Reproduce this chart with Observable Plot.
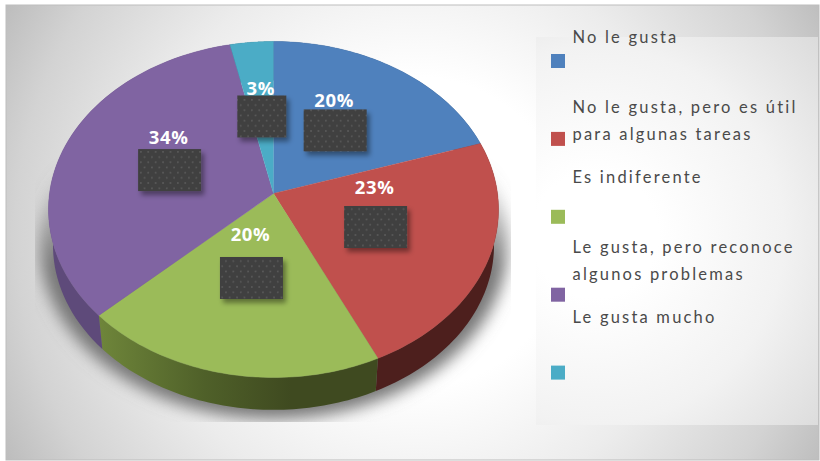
<!DOCTYPE html>
<html>
<head>
<meta charset="utf-8">
<script src="https://cdn.jsdelivr.net/npm/d3@7"></script>
<script src="https://cdn.jsdelivr.net/npm/@observablehq/plot@0.6"></script>
<style>
html,body{margin:0;padding:0;background:#fff}
svg{display:block}
</style>
</head>
<body>
<div id="chart"></div>
<script>
// Data
const categories = [
  "No le gusta",
  "No le gusta, pero es útil\npara algunas tareas",
  "Es indiferente",
  "Le gusta, pero reconoce\nalgunos problemas",
  "Le gusta mucho"
];
const values = [20, 23, 20, 33.6, 3.4];
const valueLabels = ["20%", "23%", "20%", "34%", "3%"];
const topColors = ["#4f81bd", "#c0504d", "#9bbb59", "#8064a2", "#4bacc6"];
const sideColors = ["#2f4d71", "#4d1f1d", "url(#greenSide)", "#5e4a7a", "#2d6776"];
const labelLift = [24, 34, 37, 27, 22];
const boxWidths = [63, 63, 63, 63, 49];

// Projected disc: a unit circle seen with slight perspective
const cx = 273, cy = 193, A = 224, B = 166.5, k = 0.0952, depth = 36, shrink = 0.98;
function project(turn, r = 1, s = 1, dy = 0) {
  const a = turn * 2 * Math.PI, u = r * Math.sin(a), v = -r * Math.cos(a), d = 1 - k * v;
  return [cx + s * A * u / d, cy + dy + s * B * v / d];
}
const total = d3.sum(values);
const cum = d3.cumsum(values).map(d => d / total);
const slices = categories.map((c, i) => ({c, i, start: i ? cum[i - 1] : 0, end: cum[i]}));
const arc = (s, sc = 1, dy = 0) =>
  d3.range(0, 61).map(j => project(s.start + (s.end - s.start) * j / 60, 1, sc, dy));

const topRows = slices.flatMap(s => [[cx, cy], ...arc(s)].map(([x, y]) => ({x, y, c: s.c})));
const sideRows = slices.flatMap(s => [...arc(s), ...arc(s, shrink, depth).reverse()].map(([x, y]) => ({x, y, c: s.c})));
const outline = d3.range(0, 181).map(j => project(j / 180, 1, 1.04, 34)).map(([x, y]) => ({x, y}));

const labelRows = slices.map(s => {
  const [x, y0] = project((s.start + s.end) / 2, 0.49);
  const y = y0 + 1;
  return {x, y, w: boxWidths[s.i], label: valueLabels[s.i], ly: y - labelLift[s.i]};
});
const legendRows = categories.map((c, i) => ({c, i, yText: 23 + 70 * i, ySwatch: 61 + 77.9 * i}));

const defs = () => {
  const el = document.createElementNS("http://www.w3.org/2000/svg", "defs");
  el.innerHTML = `
  <radialGradient id="bg" gradientUnits="userSpaceOnUse" cx="415" cy="232" r="470">
    <stop offset="0.33" stop-color="#ffffff"/><stop offset="0.6" stop-color="#ececec"/>
    <stop offset="0.85" stop-color="#d3d3d3"/><stop offset="1" stop-color="#bcbcbc"/>
  </radialGradient>
  <radialGradient id="panel" gradientUnits="userSpaceOnUse" cx="595" cy="235" r="315">
    <stop offset="0.2" stop-color="#ffffff"/><stop offset="0.6" stop-color="#f2f2f2"/><stop offset="1" stop-color="#d8d8d8"/>
  </radialGradient>
  <linearGradient id="greenSide" gradientUnits="userSpaceOnUse" x1="100" x2="290" y1="0" y2="0">
    <stop offset="0" stop-color="#6e853a"/><stop offset="0.55" stop-color="#4f6029"/><stop offset="1" stop-color="#3f4a20"/>
  </linearGradient>
  <linearGradient id="shadowFill" gradientUnits="userSpaceOnUse" x1="0" x2="0" y1="165" y2="265">
    <stop offset="0" stop-color="#777777" stop-opacity="0"/><stop offset="1" stop-color="#777777" stop-opacity="1"/>
  </linearGradient>
  <pattern id="dots" patternUnits="userSpaceOnUse" width="7.4" height="10.4" x="139" y="150">
    <rect width="7.4" height="10.4" fill="#3f3f3f"/>
    <rect x="1" y="1" width="1.7" height="1.7" fill="#5a5a5a"/>
    <rect x="4.7" y="6.2" width="1.7" height="1.7" fill="#5a5a5a"/>
  </pattern>
  <filter id="blur" x="-20%" y="-20%" width="140%" height="140%"><feGaussianBlur stdDeviation="8"/></filter>
  <filter id="boxShadow" x="-20%" y="-20%" width="140%" height="140%">
    <feDropShadow dx="3" dy="4" stdDeviation="2.5" flood-color="#000" flood-opacity="0.4"/>
  </filter>
  <clipPath id="shadowClip"><rect x="35" y="100" width="476" height="322"/></clipPath>`;
  return el;
};
const withAttrs = attrs => (index, scales, values, dims, ctx, next) => {
  const g = next(index, scales, values, dims, ctx);
  for (const [key, val] of Object.entries(attrs)) g.setAttribute(key, val);
  return g;
};

const plot = Plot.plot({
  width: 820,
  height: 461,
  margin: 0,
  x: {type: "identity", axis: null},
  y: {type: "identity", axis: null},
  color: {domain: categories, range: topColors},
  style: {background: "#fff"},
  marks: [
    defs,
    Plot.rect([0], {x1: () => 6, x2: () => 819, y1: () => 5, y2: () => 460, fill: "url(#bg)", stroke: "#bdbdbd", strokeWidth: 1}),
    Plot.rect([0], {x1: () => 536, x2: () => 818, y1: () => 37, y2: () => 425, fill: "url(#panel)"}),
    // shadow under the pie, cut by its rectangle
    Plot.line(outline, {x: "x", y: "y", fill: "url(#shadowFill)", stroke: "none",
      render: (i, s, v, d, c, next) => {
        const inner = next(i, s, v, d, c);
        inner.setAttribute("filter", "url(#blur)");
        const wrap = document.createElementNS("http://www.w3.org/2000/svg", "g");
        wrap.setAttribute("clip-path", "url(#shadowClip)");
        wrap.appendChild(inner);
        return wrap;
      }}),
    // side wall
    ...slices.map(s => Plot.line(sideRows.filter(r => r.c === s.c), {x: "x", y: "y", fill: sideColors[s.i], stroke: "none"})),
    // top faces
    Plot.line(topRows, {x: "x", y: "y", z: "c", fill: "c", stroke: "c", strokeWidth: 0.4}),
    // the dark blocks
    Plot.rect(labelRows, {x1: d => d.x - d.w / 2, x2: d => d.x + d.w / 2, y1: d => d.y - 21, y2: d => d.y + 21,
      fill: "url(#dots)", render: withAttrs({filter: "url(#boxShadow)"})}),
    // percent labels
    Plot.text(labelRows, {x: d => d.x - 1.5, y: "ly", text: "label", fill: "#fff", fontWeight: 700,
      fontFamily: "Open Sans", fontSize: 18.5, textAnchor: "middle", lineAnchor: "bottom",
      render: withAttrs({style: "letter-spacing:0.6px"})}),
    // legend
    Plot.rect(legendRows, {x1: () => 551, x2: () => 565, y1: d => d.ySwatch - 7, y2: d => d.ySwatch + 7, fill: "c"}),
    Plot.text(legendRows, {x: () => 572, y: "yText", text: "c", fill: "#4a4a4a",
      fontFamily: "Lato", fontSize: 16.5, textAnchor: "start", lineAnchor: "top", lineHeight: 1.636,
      render: withAttrs({style: "letter-spacing:2.2px"})})
  ]
});
document.getElementById("chart").appendChild(plot);
</script>
</body>
</html>
